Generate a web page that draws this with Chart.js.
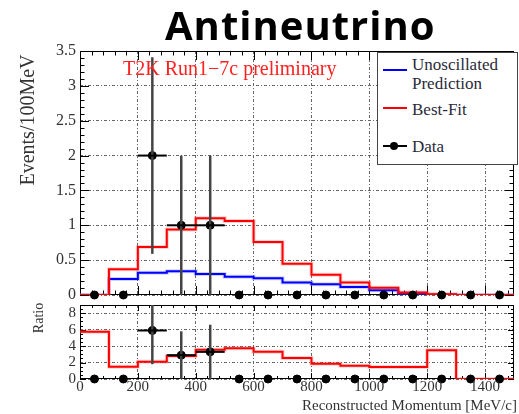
<!DOCTYPE html>
<html>
<head>
<meta charset="utf-8">
<script src="https://cdn.jsdelivr.net/npm/chart.js@4.4.0/dist/chart.umd.min.js"></script>
<style>
  body { margin: 0; background: #fff; }
  #wrap { position: relative; width: 519px; height: 414px; overflow: hidden; }
  canvas { position: absolute; left: 0; }
  .txt { position: absolute; white-space: nowrap; font-family: "Liberation Serif", "Times New Roman", serif; line-height: 1; }
  #title { position: absolute; left: 165px; top: 5px; font-family: "Open Sans", sans-serif; font-weight: 700; font-size: 40px; line-height: 40px; color: #000; letter-spacing: 1px; }
  #legend { position: absolute; left: 377px; top: 52px; width: 139px; height: 111px; border: 1px solid #444; background: #fff; }
  .swatch { position: absolute; height: 2px; }
</style>
</head>
<body>
<div id="wrap">
  <canvas id="eventsChart" width="519" height="300" style="top:0"></canvas>
  <canvas id="ratioChart" width="519" height="114" style="top:300px"></canvas>
  <div id="title">Antineutrino</div>
  <div class="txt" style="left:123px; top:58px; font-size:20px; color:#ff2020;">T2K Run1&minus;7c preliminary</div>
  <div id="legend"></div>
  <div class="swatch" style="left:383px; top:69px; width:24px; background:#0000ff;"></div>
  <div class="txt" style="left:412px; top:56px; font-size:17px; color:#2a2a3a;">Unoscillated</div>
  <div class="txt" style="left:412px; top:75px; font-size:17px; color:#2a2a3a;">Prediction</div>
  <div class="swatch" style="left:383px; top:107px; width:24px; background:#ff0000;"></div>
  <div class="txt" style="left:412px; top:101px; font-size:17px; color:#2a2a3a;">Best-Fit</div>
  <div class="swatch" style="left:383px; top:145px; width:24px; background:#000;"></div>
  <div style="position:absolute; left:390px; top:142px; width:8px; height:8px; border-radius:50%; background:#000;"></div>
  <div class="txt" style="left:412px; top:138px; font-size:17px; color:#2a2a3a;">Data</div>
  <div class="txt" style="left:-73px; top:110px; width:200px; text-align:center; font-size:20px; color:#333; transform:rotate(-90deg);">Events/100MeV</div>
  <div class="txt" style="left:-11px; top:311px; width:100px; text-align:center; font-size:14px; color:#333; transform:rotate(-90deg);">Ratio</div>
  <div class="txt" style="right:2px; top:398px; font-size:15px; color:#333;">Reconstructed Momentum [MeV/c]</div>
</div>
<script>
// reconstructed momentum bins, MeV/c
const binEdges = [0, 100, 200, 300, 400, 500, 600, 700, 800, 900, 1000, 1100, 1200, 1300, 1400, 1500];
const binCenters = [50, 150, 250, 350, 450, 550, 650, 750, 850, 950, 1050, 1150, 1250, 1350, 1450];

// events / 100 MeV
const unoscillated = [0, 0.23, 0.32, 0.34, 0.30, 0.26, 0.24, 0.18, 0.155, 0.115, 0.067, 0.02, 0.005, 0, 0];
const bestFit = [0, 0.37, 0.69, 0.94, 1.10, 1.06, 0.76, 0.45, 0.29, 0.18, 0.105, 0.035, 0.012, 0, 0];
const eventCounts = [0, 0, 2, 1, 1, 0, 0, 0, 0, 0, 0, 0, 0, 0, 0];
const countErrors = [0, 0, 1.41, 1, 1, 0, 0, 0, 0, 0, 0, 0, 0, 0, 0];

// ratio panel
const ratioFit = [5.75, 1.5, 2.1, 2.8, 3.55, 3.75, 3.3, 2.55, 1.85, 1.6, 1.45, 1.45, 3.5, 0, 0];
const ratioData = [0, 0, 5.9, 2.9, 3.3, 0, 0, 0, 0, 0, 0, 0, 0, 0, 0];
const ratioErrors = [0, 0, 4.1, 2.9, 3.3, 0, 0, 0, 0, 0, 0, 0, 0, 0, 0];

const eventTicks = [0, 0.5, 1, 1.5, 2, 2.5, 3, 3.5];
const ratioTicks = [0, 2, 4, 6, 8];
const momentumTicks = [0, 200, 400, 600, 800, 1000, 1200, 1400];

const histPoints = values => binEdges.map((x, i) => ({ x, y: values[Math.min(i, values.length - 1)] }));
const centerPoints = values => binCenters.map((x, i) => ({ x, y: values[i] }));

// frame with ROOT style ticks pointing inward
const framePlugin = {
  id: 'frame',
  beforeDatasetsDraw(chart, args, opts) {
    const { ctx, chartArea: a, scales: { x, y } } = chart;
    ctx.save();
    ctx.strokeStyle = '#000';
    ctx.lineWidth = 1;
    ctx.strokeRect(a.left + 0.5, a.top + 0.5, a.width - 1, a.height - 1);
    ctx.beginPath();
    const nx = Math.round((x.max - x.min) / opts.xMinor);
    for (let i = 0; i <= nx; i++) {
      const v = x.min + i * opts.xMinor;
      const px = Math.round(x.getPixelForValue(v)) + 0.5;
      const len = i % opts.xSub === 0 ? opts.xLen : opts.xLen / 2;
      ctx.moveTo(px, a.bottom); ctx.lineTo(px, a.bottom - len);
      ctx.moveTo(px, a.top); ctx.lineTo(px, a.top + len);
    }
    const ny = Math.round((y.max - y.min) / opts.yMinor);
    for (let i = 0; i <= ny; i++) {
      const v = y.min + i * opts.yMinor;
      const py = Math.round(y.getPixelForValue(v)) + 0.5;
      const len = i % opts.ySub === 0 ? opts.yLen : opts.yLen / 2;
      ctx.moveTo(a.left, py); ctx.lineTo(a.left + len, py);
      ctx.moveTo(a.right, py); ctx.lineTo(a.right - len, py);
    }
    ctx.stroke();
    ctx.restore();
  },
  // tick labels in Times-style serif
  afterDraw(chart, args, opts) {
    const { ctx, chartArea: a, scales: { x, y } } = chart;
    ctx.save();
    ctx.font = opts.labelSize + 'px "Liberation Serif"';
    ctx.fillStyle = '#333';
    ctx.textAlign = 'right';
    ctx.textBaseline = 'middle';
    y.ticks.forEach(t => ctx.fillText(String(t.value), a.left - 4, y.getPixelForValue(t.value)));
    if (opts.xLabels) {
      ctx.textAlign = 'center';
      ctx.textBaseline = 'top';
      x.ticks.forEach(t => ctx.fillText(String(t.value), x.getPixelForValue(t.value), a.bottom + 1));
    }
    ctx.restore();
  }
};

// sqrt(N) error bars on the data points, bin-width horizontal bars
const errorBarPlugin = {
  id: 'errorBars',
  afterDatasetsDraw(chart) {
    const { ctx, chartArea: a, scales: { x, y } } = chart;
    ctx.save();
    ctx.beginPath();
    ctx.rect(a.left, a.top, a.width, a.height);
    ctx.clip();
    chart.data.datasets.forEach(ds => {
      if (!ds.errors) return;
      ds.data.forEach((p, i) => {
        const e = ds.errors[i];
        if (!e) return;
        const px = x.getPixelForValue(p.x);
        const py = y.getPixelForValue(p.y);
        ctx.strokeStyle = '#444';
        ctx.lineWidth = 2.5;
        ctx.beginPath();
        ctx.moveTo(px, y.getPixelForValue(p.y - e));
        ctx.lineTo(px, y.getPixelForValue(p.y + e));
        ctx.stroke();
        ctx.strokeStyle = '#000';
        ctx.lineWidth = 2;
        ctx.beginPath();
        ctx.moveTo(x.getPixelForValue(binEdges[i]), py);
        ctx.lineTo(x.getPixelForValue(binEdges[i + 1]), py);
        ctx.stroke();
      });
    });
    ctx.restore();
  }
};

const gridDash = [3, 2, 1, 2];

function stepLine(values, color, width) {
  return {
    data: histPoints(values),
    borderColor: color,
    borderWidth: width,
    stepped: true,
    pointRadius: 0,
    fill: false
  };
}

function dataSet(values, errors) {
  return {
    data: centerPoints(values),
    errors: errors,
    showLine: false,
    pointRadius: 4,
    pointBackgroundColor: '#000',
    pointBorderColor: '#000',
    clip: false
  };
}

function xScale(height) {
  return {
    type: 'linear',
    min: 0,
    max: 1500,
    afterBuildTicks: s => { s.ticks = momentumTicks.map(v => ({ value: v })); },
    afterFit: s => { s.height = height; },
    ticks: { display: false },
    grid: { color: '#666', lineWidth: 1, drawTicks: false },
    border: { display: false, dash: gridDash }
  };
}

function yScale(max, ticks) {
  return {
    min: 0,
    max: max,
    afterBuildTicks: s => { s.ticks = ticks.map(v => ({ value: v })); },
    afterFit: s => { s.width = 80; },
    ticks: { display: false },
    grid: { color: '#666', lineWidth: 1, drawTicks: false },
    border: { display: false, dash: gridDash }
  };
}

const baseOptions = {
  responsive: false,
  animation: false,
  devicePixelRatio: 1,
  plugins: { legend: { display: false }, tooltip: { enabled: false } }
};

new Chart(document.getElementById('eventsChart'), {
  type: 'line',
  data: {
    datasets: [
      dataSet(eventCounts, countErrors),
      stepLine(bestFit, '#ff0000', 2),
      stepLine(bestFit, 'rgba(255, 80, 80, 0.25)', 4),
      stepLine(unoscillated, '#0000ff', 2),
      stepLine(unoscillated, 'rgba(80, 80, 255, 0.25)', 4)
    ]
  },
  options: {
    ...baseOptions,
    layout: { padding: { top: 51, right: 2, left: 0, bottom: 0 } },
    scales: { x: xScale(3), y: yScale(3.5, eventTicks) },
    plugins: {
      ...baseOptions.plugins,
      frame: { xMinor: 40, xSub: 5, xLen: 9, yMinor: 0.1, ySub: 5, yLen: 9, labelSize: 16, xLabels: false }
    }
  },
  plugins: [framePlugin, errorBarPlugin]
});

new Chart(document.getElementById('ratioChart'), {
  type: 'line',
  data: {
    datasets: [
      dataSet(ratioData, ratioErrors),
      stepLine(ratioFit, '#ff0000', 2),
      stepLine(ratioFit, 'rgba(255, 80, 80, 0.25)', 4)
    ]
  },
  options: {
    ...baseOptions,
    layout: { padding: { top: 3, right: 2, left: 0, bottom: 0 } },
    scales: { x: xScale(35), y: yScale(9, ratioTicks) },
    plugins: {
      ...baseOptions.plugins,
      frame: { xMinor: 40, xSub: 5, xLen: 6, yMinor: 0.5, ySub: 4, yLen: 6, labelSize: 15, xLabels: true }
    }
  },
  plugins: [framePlugin, errorBarPlugin]
});
</script>
</body>
</html>
